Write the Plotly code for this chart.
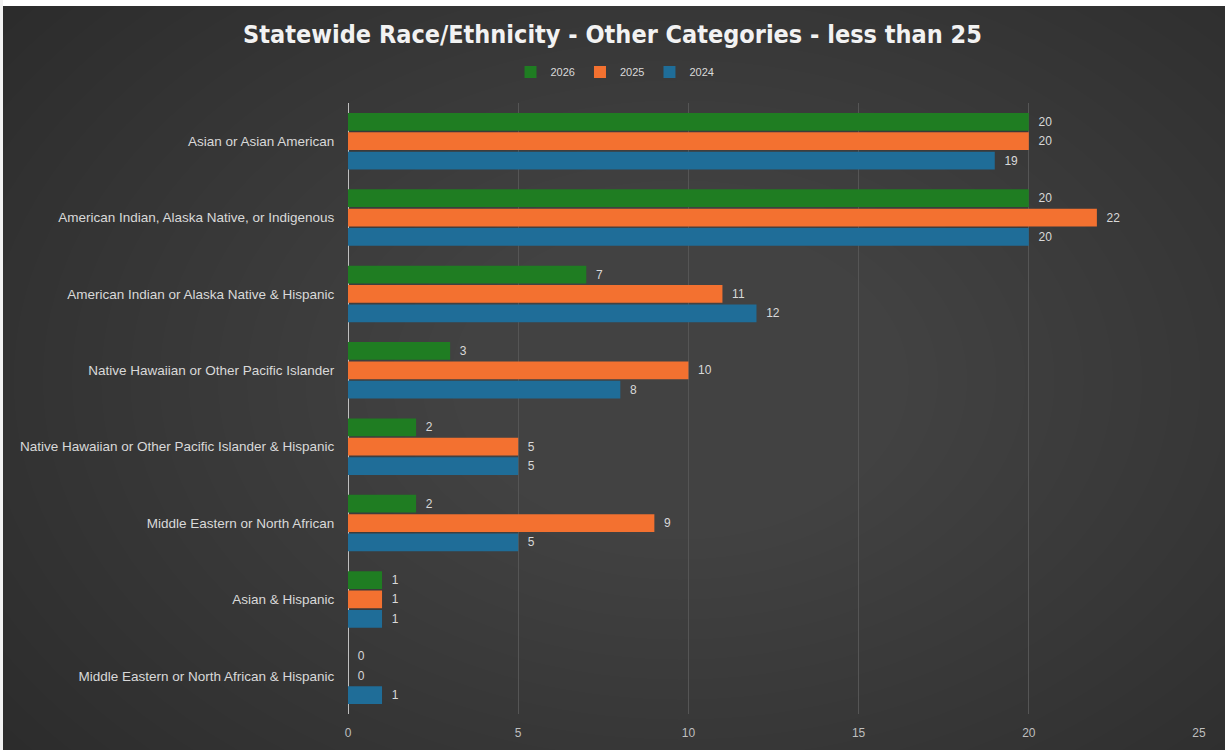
import plotly.graph_objects as go

categories = [
    "Asian or Asian American",
    "American Indian, Alaska Native, or Indigenous",
    "American Indian or Alaska Native & Hispanic",
    "Native Hawaiian or Other Pacific Islander",
    "Native Hawaiian or Other Pacific Islander & Hispanic",
    "Middle Eastern or North African",
    "Asian & Hispanic",
    "Middle Eastern or North African & Hispanic",
]
v2026 = [20, 20, 7, 3, 2, 2, 1, 0]
v2025 = [20, 22, 11, 10, 5, 9, 1, 0]
v2024 = [19, 20, 12, 8, 5, 5, 1, 1]
x_ticks = [0, 5, 10, 15, 20, 25]

W, H = 1225, 750
L, R, T, B = 348, 26, 103, 36
pw, ph = W - L - R, H - T - B

def px2x(px):
    return (px - L) / pw

def py2y(py):
    return (H - B - py) / ph

fig = go.Figure()
series = [("2026", v2026, "#1f7d22"), ("2025", v2025, "#f37130"), ("2024", v2024, "#1f6d98")]
for name, vals, col in series:
    fig.add_trace(go.Bar(
        y=categories, x=vals, name=name, orientation="h",
        marker=dict(color=col, line=dict(width=0)),
        text=["\u00a0\u00a0" + str(v) for v in vals], textposition="outside",
        textfont=dict(color="#d9d9d9", size=12, family="Liberation Sans"),
        cliponaxis=False,
    ))

shapes = [dict(type="rect", xref="paper", yref="paper", layer="below",
               x0=px2x(3), x1=px2x(W), y0=py2y(H), y1=py2y(6),
               fillcolor="#2a2a2a", line=dict(width=0))]
# radial-ish gradient via nested ellipses
cx, cy = 680, 380
n = 24
for i in range(n):
    rx = 900 - i * 700 / n
    ry = 620 - i * 480 / n
    shapes.append(dict(type="circle", xref="paper", yref="paper", layer="below",
                       x0=px2x(cx - rx), x1=px2x(cx + rx),
                       y0=py2y(cy + ry), y1=py2y(cy - ry),
                       fillcolor="rgba(255,255,255,0.009)", line=dict(width=0)))
# white strips on top/left (outside the dark chart area)
shapes.append(dict(type="rect", xref="paper", yref="paper", layer="below",
                   x0=px2x(-50), x1=px2x(W + 50), y0=py2y(6), y1=py2y(-50),
                   fillcolor="white", line=dict(width=0)))
shapes.append(dict(type="rect", xref="paper", yref="paper", layer="below",
                   x0=px2x(-50), x1=px2x(3), y0=py2y(H + 50), y1=py2y(-50),
                   fillcolor="#f2f2f2", line=dict(width=0)))

fig.update_layout(
    width=W, height=H,
    margin=dict(l=L, r=R, t=T, b=B, autoexpand=False),
    paper_bgcolor="white",
    plot_bgcolor="rgba(0,0,0,0)",
    barmode="group", bargap=0.24, bargroupgap=0.08,
    shapes=shapes,
    title=dict(text="<b>Statewide Race/Ethnicity - Other Categories - less than 25</b>",
               x=0.5, xanchor="center", y=1 - 34 / H, yanchor="middle",
               font=dict(family="DejaVu Sans Condensed, Liberation Sans", size=25, color="#f2f2f2")),
    legend=dict(orientation="h", traceorder="normal",
                x=px2x(615), xanchor="center", y=py2y(72), yanchor="middle",
                font=dict(color="#d9d9d9", size=11, family="Liberation Sans"),
                bgcolor="rgba(0,0,0,0)", itemwidth=30),
    xaxis=dict(range=[0, 25], tickvals=x_ticks, showgrid=True, gridcolor="#555555", gridwidth=1,
               zeroline=True, zerolinecolor="#bfbfbf", zerolinewidth=1,
               tickfont=dict(color="#bfbfbf", size=12, family="Liberation Sans"),
               ticks="outside", ticklen=8, tickcolor="rgba(0,0,0,0)",
               showline=False, fixedrange=True),
    yaxis=dict(autorange="reversed", showgrid=False, zeroline=False, showline=False,
               tickfont=dict(color="#d9d9d9", size=13.5, family="Liberation Sans"),
               ticks="outside", ticklen=10, tickcolor="rgba(0,0,0,0)"),
)

fig.write_html("out.html", config={"displayModeBar": False},
               post_script="document.body.style.margin='0px';document.body.style.overflow='hidden';")
